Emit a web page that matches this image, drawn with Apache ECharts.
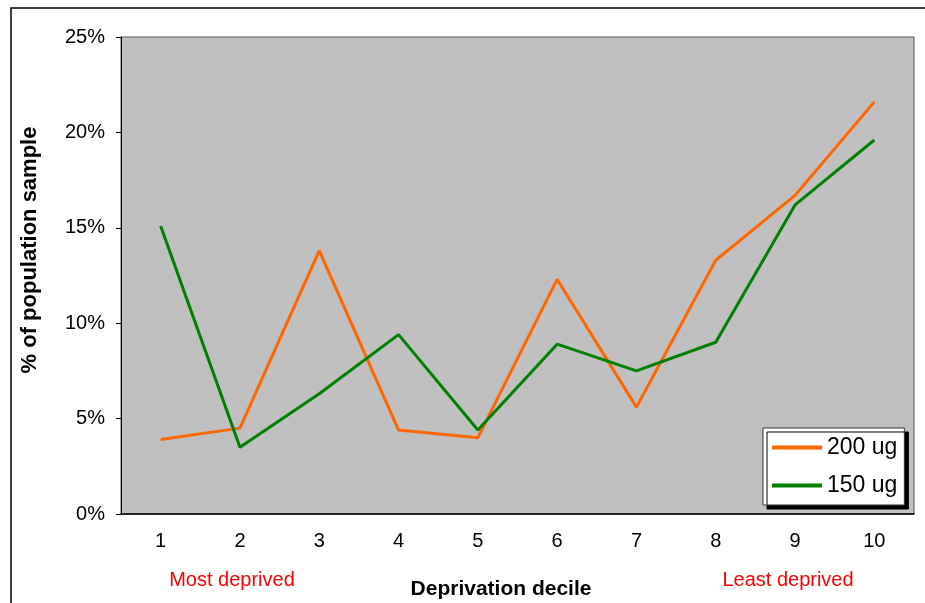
<!DOCTYPE html>
<html><head><meta charset="utf-8">
<script src="https://cdn.jsdelivr.net/npm/echarts@6/dist/echarts.min.js"></script>
<style>html,body{margin:0;padding:0;background:#fff}#c{width:925px;height:603px}</style>
</head><body><div id="c"></div>
<script>
const categories = ['1','2','3','4','5','6','7','8','9','10'];
const series200 = [3.9, 4.5, 13.8, 4.4, 4.0, 12.3, 5.6, 13.3, 16.7, 21.6];
const series150 = [15.1, 3.5, 6.3, 9.4, 4.4, 8.9, 7.5, 9.0, 16.2, 19.6];
const seriesNames = ['200 ug', '150 ug'];
const yTicks = [0, 5, 10, 15, 20, 25];

const chart = echarts.init(document.getElementById('c'));
const font = '"Liberation Sans", Arial, sans-serif';
chart.setOption({
  animation: false,
  textStyle: { fontFamily: font },
  grid: { left: 121, top: 37, width: 793, height: 477, show: true, backgroundColor: '#C0C0C0', borderColor: '#555', borderWidth: 1, containLabel: false, outerBoundsMode: 'none' },
  legend: {
    left: 763, top: 428, orient: 'vertical', itemGap: 15,
    backgroundColor: '#fff', borderColor: '#333', borderWidth: 1,
    padding: [8, 7, 8, 9],
    shadowColor: '#000', shadowBlur: 0, shadowOffsetX: 4, shadowOffsetY: 4,
    itemWidth: 50, itemHeight: 4,
    icon: 'rect',
    textStyle: { fontSize: 23, color: '#000', fontFamily: font },
    data: seriesNames
  },
  xAxis: {
    type: 'category', data: categories, boundaryGap: true,
    axisLine: { lineStyle: { color: '#000', width: 1.5 } },
    axisTick: { show: false },
    axisLabel: { fontSize: 20, color: '#000', margin: 17, fontFamily: font }
  },
  yAxis: {
    type: 'value', min: 0, max: 25, interval: 5,
    axisLine: { show: true, lineStyle: { color: '#000', width: 1 } },
    axisTick: { show: true, inside: false, length: 5, lineStyle: { color: '#000' } },
    splitLine: { show: false },
    axisLabel: { fontSize: 20, color: '#000', margin: 16, fontFamily: font,
      formatter: v => yTicks.includes(v) ? v + '%' : '' }
  },
  series: [
    { name: seriesNames[0], type: 'line', data: series200, symbol: 'none', lineStyle: { color: '#FF6600', width: 3 }, itemStyle: { color: '#FF6600' } },
    { name: seriesNames[1], type: 'line', data: series150, symbol: 'none', lineStyle: { color: '#008000', width: 3 }, itemStyle: { color: '#008000' } }
  ],
  graphic: [
    { type: 'rect', shape: { x: 11, y: 8, width: 1000, height: 1000 }, style: { fill: 'none', stroke: '#000', lineWidth: 1.5 }, silent: true, z: -1 },
    { type: 'text', x: 232, y: 580, style: { text: 'Most deprived', fill: '#FF0000', font: '20px ' + font, textAlign: 'center', textVerticalAlign: 'middle' } },
    { type: 'text', x: 788, y: 580, style: { text: 'Least deprived', fill: '#FF0000', font: '20px ' + font, textAlign: 'center', textVerticalAlign: 'middle' } },
    { type: 'text', x: 501, y: 589, style: { text: 'Deprivation decile', fill: '#000', font: 'bold 21px ' + font, textAlign: 'center', textVerticalAlign: 'middle' } },
    { type: 'text', x: 30, y: 250, rotation: Math.PI / 2, style: { text: '% of population sample', fill: '#000', font: 'bold 22px ' + font, textAlign: 'center', textVerticalAlign: 'middle' } }
  ]
});
</script></body></html>
